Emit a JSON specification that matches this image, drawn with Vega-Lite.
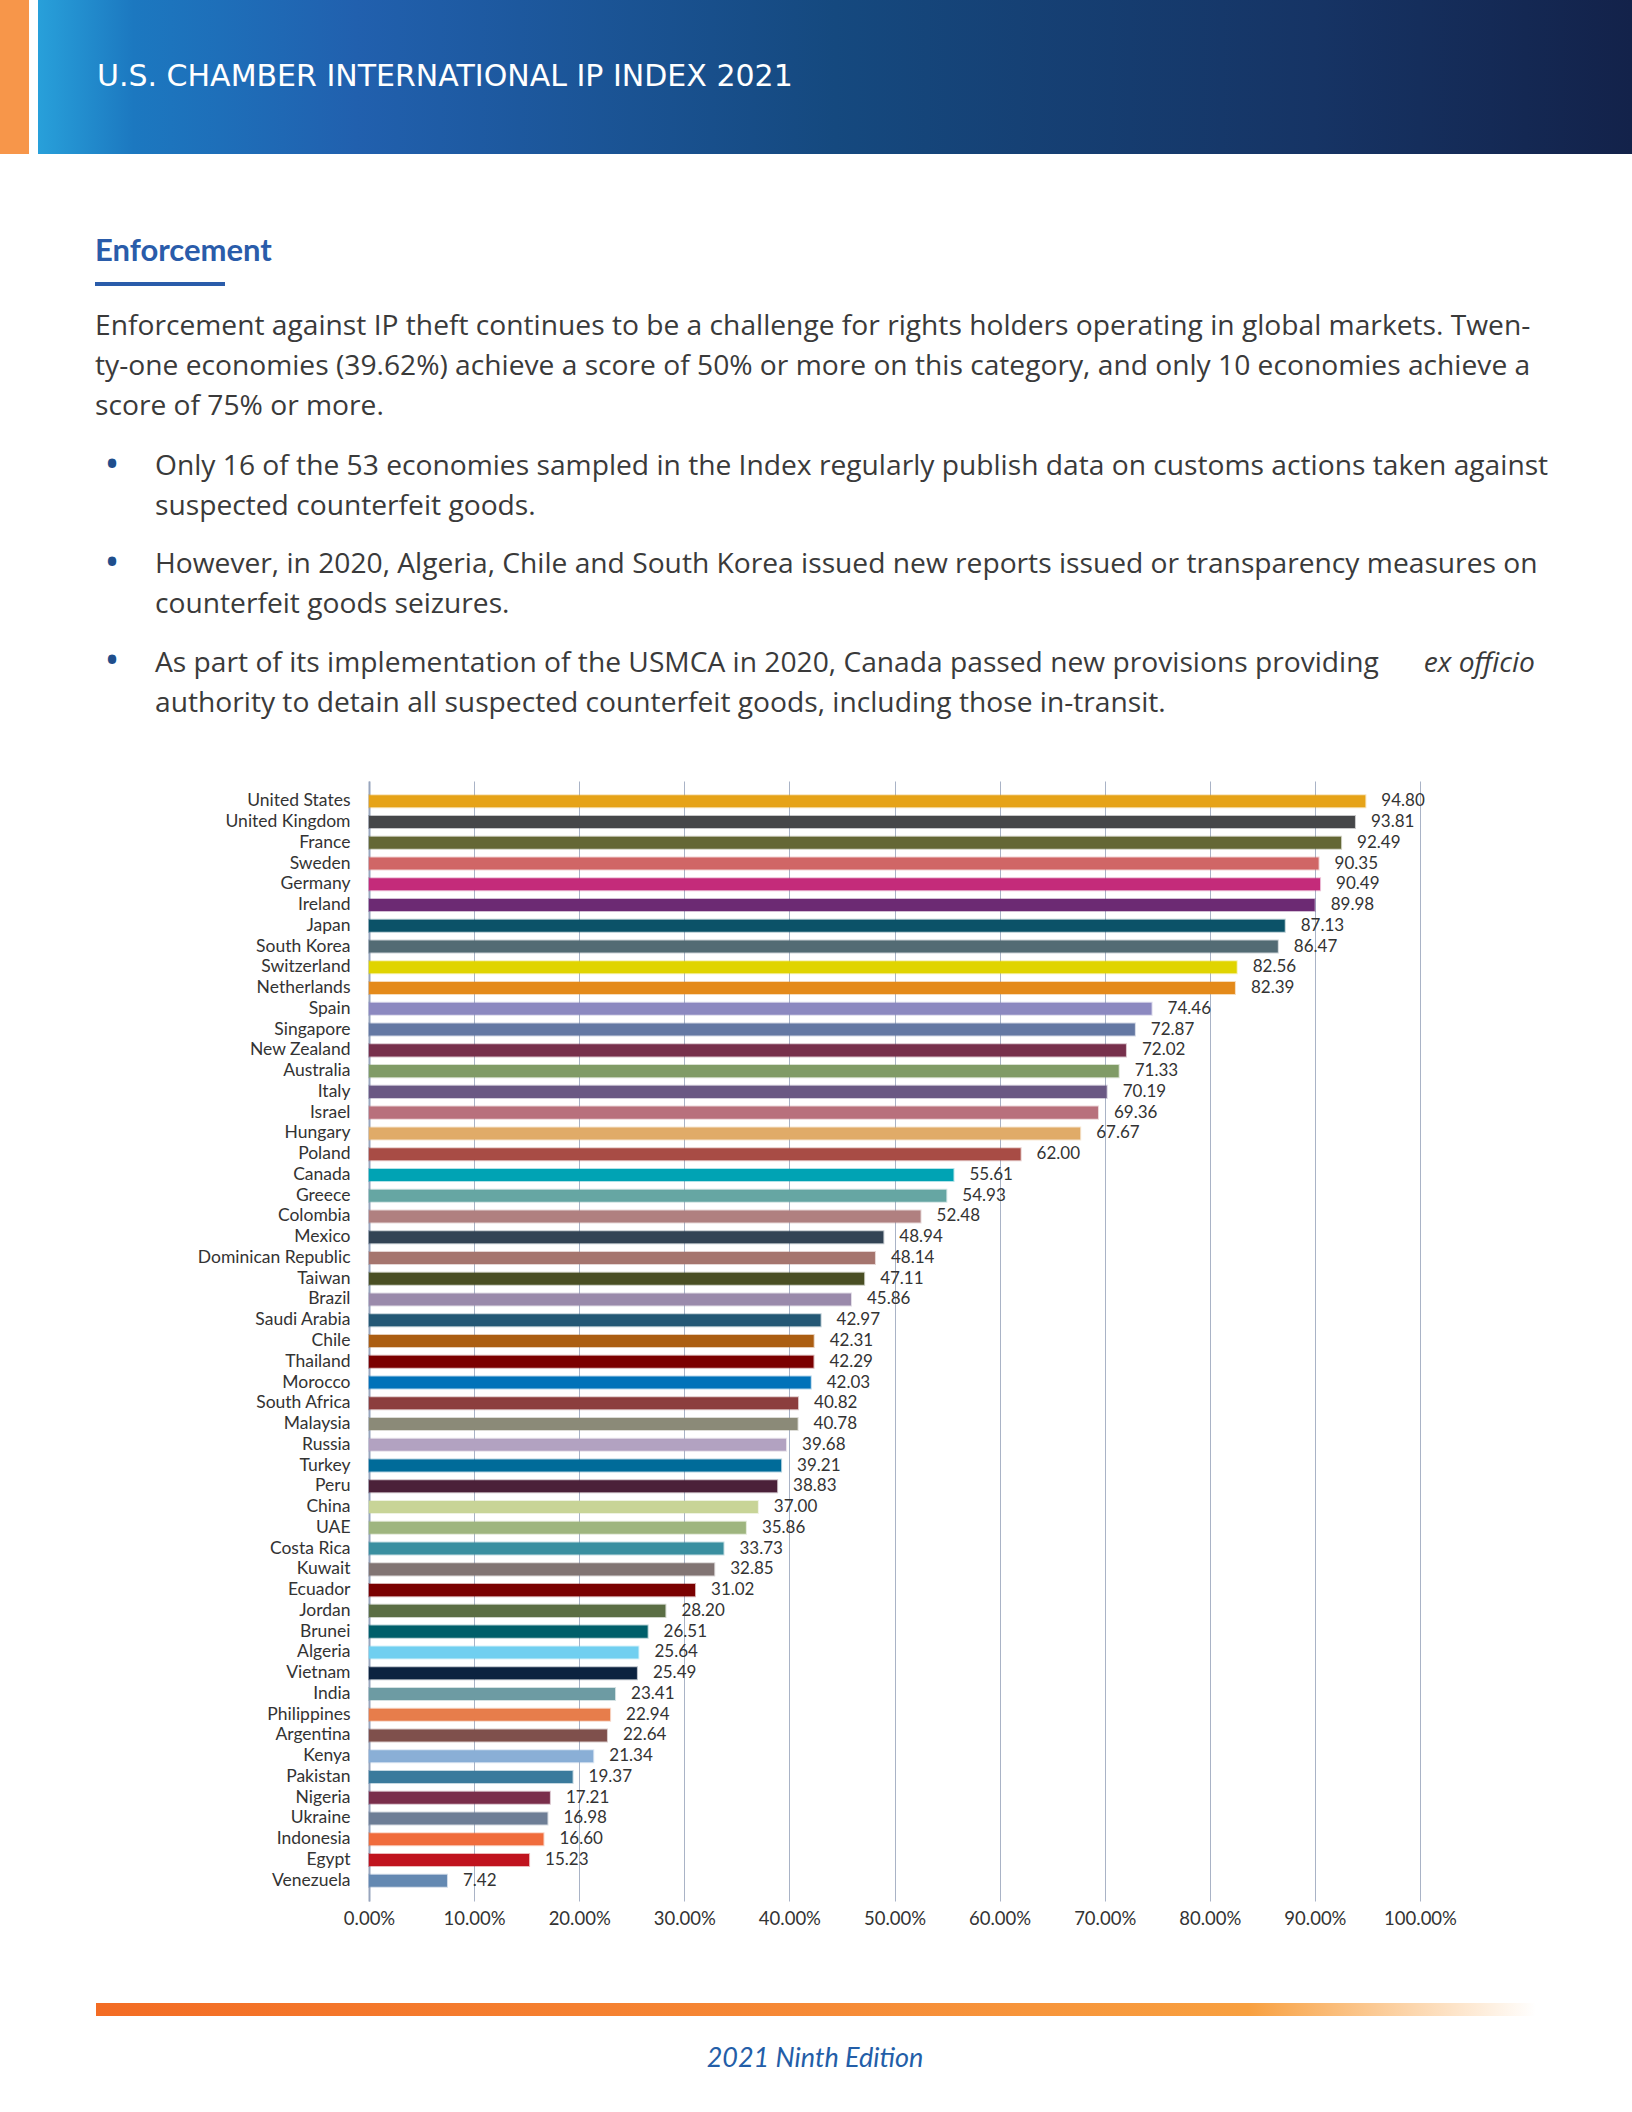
{
  "$schema": "https://vega.github.io/schema/vega-lite/v6.json",
  "width": 1051,
  "height": 1120,
  "autosize": {"type": "none"},
  "padding": {"left": 369, "top": 781, "right": 212, "bottom": 211},
  "background": "#ffffff",
  "config": {
    "view": {"stroke": null},
    "font": "Lato",
    "text": {"font": "Lato"}
  },
  "data": {
    "values": [
      {"country": "United States", "score": 94.80},
      {"country": "United Kingdom", "score": 93.81},
      {"country": "France", "score": 92.49},
      {"country": "Sweden", "score": 90.35},
      {"country": "Germany", "score": 90.49},
      {"country": "Ireland", "score": 89.98},
      {"country": "Japan", "score": 87.13},
      {"country": "South Korea", "score": 86.47},
      {"country": "Switzerland", "score": 82.56},
      {"country": "Netherlands", "score": 82.39},
      {"country": "Spain", "score": 74.46},
      {"country": "Singapore", "score": 72.87},
      {"country": "New Zealand", "score": 72.02},
      {"country": "Australia", "score": 71.33},
      {"country": "Italy", "score": 70.19},
      {"country": "Israel", "score": 69.36},
      {"country": "Hungary", "score": 67.67},
      {"country": "Poland", "score": 62.00},
      {"country": "Canada", "score": 55.61},
      {"country": "Greece", "score": 54.93},
      {"country": "Colombia", "score": 52.48},
      {"country": "Mexico", "score": 48.94},
      {"country": "Dominican Republic", "score": 48.14},
      {"country": "Taiwan", "score": 47.11},
      {"country": "Brazil", "score": 45.86},
      {"country": "Saudi Arabia", "score": 42.97},
      {"country": "Chile", "score": 42.31},
      {"country": "Thailand", "score": 42.29},
      {"country": "Morocco", "score": 42.03},
      {"country": "South Africa", "score": 40.82},
      {"country": "Malaysia", "score": 40.78},
      {"country": "Russia", "score": 39.68},
      {"country": "Turkey", "score": 39.21},
      {"country": "Peru", "score": 38.83},
      {"country": "China", "score": 37.00},
      {"country": "UAE", "score": 35.86},
      {"country": "Costa Rica", "score": 33.73},
      {"country": "Kuwait", "score": 32.85},
      {"country": "Ecuador", "score": 31.02},
      {"country": "Jordan", "score": 28.20},
      {"country": "Brunei", "score": 26.51},
      {"country": "Algeria", "score": 25.64},
      {"country": "Vietnam", "score": 25.49},
      {"country": "India", "score": 23.41},
      {"country": "Philippines", "score": 22.94},
      {"country": "Argentina", "score": 22.64},
      {"country": "Kenya", "score": 21.34},
      {"country": "Pakistan", "score": 19.37},
      {"country": "Nigeria", "score": 17.21},
      {"country": "Ukraine", "score": 16.98},
      {"country": "Indonesia", "score": 16.60},
      {"country": "Egypt", "score": 15.23},
      {"country": "Venezuela", "score": 7.42}
    ]
  },
  "layer": [
    {
      "mark": {"type": "bar", "strokeWidth": 2, "strokeOpacity": 0.3},
      "encoding": {
        "y": {
          "field": "country",
          "type": "nominal",
          "sort": null,
          "scale": {"paddingInner": 0.42, "paddingOuter": 0.685},
          "axis": {
            "title": null,
            "ticks": false,
            "labelPadding": 19,
            "labelFontSize": 17.5,
            "labelColor": "#333333",
            "labelFont": "Lato",
            "domainColor": "#98a5bd",
            "domainWidth": 2
          }
        },
        "x": {
          "field": "score",
          "type": "quantitative",
          "scale": {"domain": [0, 100], "nice": false},
          "axis": {
            "title": null,
            "values": [0, 10, 20, 30, 40, 50, 60, 70, 80, 90, 100],
            "labelExpr": "format(datum.value, '.2f') + '%'",
            "labelOverlap": false,
            "labelFlush": false,
            "labelBound": false,
            "domain": false,
            "ticks": false,
            "grid": true,
            "gridColor": "#a9b3c6",
            "gridWidth": 1,
            "labelFontSize": 18.5,
            "labelColor": "#333333",
            "labelFont": "Lato",
            "labelPadding": 8
          }
        },
        "color": {
          "field": "country",
          "type": "nominal",
          "legend": null,
          "scale": {
            "domain": ["United States", "United Kingdom", "France", "Sweden", "Germany", "Ireland", "Japan", "South Korea", "Switzerland", "Netherlands", "Spain", "Singapore", "New Zealand", "Australia", "Italy", "Israel", "Hungary", "Poland", "Canada", "Greece", "Colombia", "Mexico", "Dominican Republic", "Taiwan", "Brazil", "Saudi Arabia", "Chile", "Thailand", "Morocco", "South Africa", "Malaysia", "Russia", "Turkey", "Peru", "China", "UAE", "Costa Rica", "Kuwait", "Ecuador", "Jordan", "Brunei", "Algeria", "Vietnam", "India", "Philippines", "Argentina", "Kenya", "Pakistan", "Nigeria", "Ukraine", "Indonesia", "Egypt", "Venezuela"],
            "range": ["#e6a318", "#464749", "#646735", "#d06666", "#c42b7a", "#6c2a73", "#0b5268", "#536b74", "#e0d400", "#e48a1a", "#8c89c0", "#6478a3", "#77304c", "#809b66", "#6a5883", "#b8707c", "#e0ab68", "#a84c45", "#00a3b4", "#66a6a3", "#b08080", "#334455", "#a5756e", "#4a4f24", "#9a8aab", "#245875", "#ab5e12", "#7b0000", "#0072b9", "#8c3e3e", "#8b8a78", "#b2a2c1", "#006b99", "#4b2139", "#c8d497", "#9eb57f", "#3a8fa0", "#817473", "#7a0000", "#5b6e44", "#005f6a", "#70cff0", "#0c2340", "#6d9ba3", "#e77d4b", "#7f504c", "#8aafd6", "#3a7a9c", "#7a2e4b", "#6e7e96", "#f06c3c", "#c0131e", "#6489b2"]
          }
        },
        "stroke": {
          "field": "country",
          "type": "nominal",
          "legend": null,
          "scale": {
            "domain": ["United States", "United Kingdom", "France", "Sweden", "Germany", "Ireland", "Japan", "South Korea", "Switzerland", "Netherlands", "Spain", "Singapore", "New Zealand", "Australia", "Italy", "Israel", "Hungary", "Poland", "Canada", "Greece", "Colombia", "Mexico", "Dominican Republic", "Taiwan", "Brazil", "Saudi Arabia", "Chile", "Thailand", "Morocco", "South Africa", "Malaysia", "Russia", "Turkey", "Peru", "China", "UAE", "Costa Rica", "Kuwait", "Ecuador", "Jordan", "Brunei", "Algeria", "Vietnam", "India", "Philippines", "Argentina", "Kenya", "Pakistan", "Nigeria", "Ukraine", "Indonesia", "Egypt", "Venezuela"],
            "range": ["#e6a318", "#464749", "#646735", "#d06666", "#c42b7a", "#6c2a73", "#0b5268", "#536b74", "#e0d400", "#e48a1a", "#8c89c0", "#6478a3", "#77304c", "#809b66", "#6a5883", "#b8707c", "#e0ab68", "#a84c45", "#00a3b4", "#66a6a3", "#b08080", "#334455", "#a5756e", "#4a4f24", "#9a8aab", "#245875", "#ab5e12", "#7b0000", "#0072b9", "#8c3e3e", "#8b8a78", "#b2a2c1", "#006b99", "#4b2139", "#c8d497", "#9eb57f", "#3a8fa0", "#817473", "#7a0000", "#5b6e44", "#005f6a", "#70cff0", "#0c2340", "#6d9ba3", "#e77d4b", "#7f504c", "#8aafd6", "#3a7a9c", "#7a2e4b", "#6e7e96", "#f06c3c", "#c0131e", "#6489b2"]
          }
        }
      }
    },
    {
      "mark": {"type": "text", "align": "left", "baseline": "middle", "dx": 16, "fontSize": 17, "color": "#333333", "font": "Lato"},
      "encoding": {
        "y": {"field": "country", "type": "nominal", "sort": null},
        "x": {"field": "score", "type": "quantitative"},
        "text": {"field": "score", "type": "quantitative", "format": ".2f"}
      }
    },
    {
      "data": {"values": [{}]},
      "mark": {"type": "rect", "x": -369, "x2": -340, "y": -781, "y2": -627, "color": "#f7964a"}
    },
    {
      "data": {"values": [{}]},
      "mark": {
        "type": "rect", "x": -331, "x2": 1263, "y": -781, "y2": -627,
        "color": {
          "gradient": "linear", "x1": 0, "x2": 1, "y1": 0, "y2": 0,
          "stops": [
            {"offset": 0, "color": "#28a0da"},
            {"offset": 0.06, "color": "#1c78c0"},
            {"offset": 0.2, "color": "#2160ae"},
            {"offset": 0.5, "color": "#15497f"},
            {"offset": 0.8, "color": "#163465"},
            {"offset": 1, "color": "#13224a"}
          ]
        }
      }
    },
    {
      "data": {"values": [{}]},
      "mark": {"type": "text", "x": -272, "y": -695, "align": "left", "baseline": "alphabetic", "fontSize": 30, "color": "#ffffff", "font": "DejaVu Sans", "text": "U.S. CHAMBER INTERNATIONAL IP INDEX 2021"}
    },
    {
      "data": {"values": [{}]},
      "mark": {"type": "text", "x": -274, "y": -520, "align": "left", "baseline": "alphabetic", "fontSize": 31, "fontWeight": "bold", "color": "#2a5caa", "font": "Lato", "text": "Enforcement"}
    },
    {
      "data": {"values": [{}]},
      "mark": {"type": "rect", "x": -274, "x2": -144, "y": -499, "y2": -495, "color": "#2a5caa"}
    },
    {
      "data": {"values": [{}]},
      "mark": {"type": "text", "x": -274, "y": -446, "align": "left", "baseline": "alphabetic", "fontSize": 28.2, "lineHeight": 40, "color": "#3a3a3a", "font": "Open Sans",
        "text": ["Enforcement against IP theft continues to be a challenge for rights holders operating in global markets. Twen-", "ty-one economies (39.62%) achieve a score of 50% or more on this category, and only 10 economies achieve a", "score of 75% or more."]}
    },
    {
      "data": {"values": [{}]},
      "mark": {"type": "text", "x": -257, "y": -303, "align": "center", "baseline": "alphabetic", "fontSize": 40, "lineHeight": 98, "color": "#1f4e8c", "font": "Open Sans",
        "text": ["•", "•", "•"]}
    },
    {
      "data": {"values": [{}]},
      "mark": {"type": "text", "x": -214, "y": -306, "align": "left", "baseline": "alphabetic", "fontSize": 28.2, "lineHeight": 40, "color": "#3a3a3a", "font": "Open Sans",
        "text": ["Only 16 of the 53 economies sampled in the Index regularly publish data on customs actions taken against", "suspected counterfeit goods."]}
    },
    {
      "data": {"values": [{}]},
      "mark": {"type": "text", "x": -214, "y": -208, "align": "left", "baseline": "alphabetic", "fontSize": 28.2, "lineHeight": 40, "color": "#3a3a3a", "font": "Open Sans",
        "text": ["However, in 2020, Algeria, Chile and South Korea issued new reports issued or transparency measures on", "counterfeit goods seizures."]}
    },
    {
      "data": {"values": [{}]},
      "mark": {"type": "text", "x": -214, "y": -109, "align": "left", "baseline": "alphabetic", "fontSize": 28.2, "lineHeight": 40, "color": "#3a3a3a", "font": "Open Sans",
        "text": ["As part of its implementation of the USMCA in 2020, Canada passed new provisions providing", "authority to detain all suspected counterfeit goods, including those in-transit."]}
    },
    {
      "data": {"values": [{}]},
      "mark": {"type": "text", "x": 1166, "y": -109, "align": "right", "baseline": "alphabetic", "fontSize": 28.2, "fontStyle": "italic", "color": "#3a3a3a", "font": "Open Sans", "text": "ex officio"}
    },
    {
      "data": {"values": [{}]},
      "mark": {
        "type": "rect", "x": -273, "x2": 1167, "y": 1222, "y2": 1235,
        "color": {
          "gradient": "linear", "x1": 0, "x2": 1, "y1": 0, "y2": 0,
          "stops": [
            {"offset": 0, "color": "#f36c24"},
            {"offset": 0.5, "color": "#f68a36"},
            {"offset": 0.8, "color": "#f8a040"},
            {"offset": 1, "color": "#ffffff"}
          ]
        }
      }
    },
    {
      "data": {"values": [{}]},
      "mark": {"type": "text", "x": 446, "y": 1286, "align": "center", "baseline": "alphabetic", "fontSize": 27, "fontStyle": "italic", "color": "#235ea8", "font": "Lato", "text": "2021 Ninth Edition"}
    }
  ]
}
